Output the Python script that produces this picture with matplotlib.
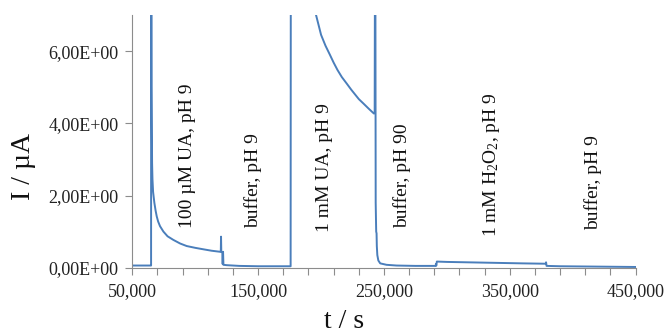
import numpy as np
import matplotlib
matplotlib.use('Agg')
import matplotlib.pyplot as plt
import matplotlib.ticker as ticker

plt.rcParams['font.family'] = ['Liberation Serif', 'DejaVu Serif']
plt.rcParams['mathtext.fontset'] = 'custom'
plt.rcParams['mathtext.rm'] = 'Liberation Serif'

# first injection: 100 uM UA, then buffer
t_seg1 = [50000, 64500, 64900, 65000, 65300, 65700, 66000, 66500, 67500, 68500,
          69400, 70500, 72000, 74700, 78000, 82600, 88000, 93200, 100000, 106400,
          113000, 120000, 120300, 120500, 120700, 121500, 121800, 122100, 122400,
          125000, 135000, 150000, 175800]
i_seg1 = [0.06, 0.06, 0.06, 12.0, 5.0, 2.9, 2.45, 2.1, 1.8, 1.58,
          1.42, 1.28, 1.15, 1.0, 0.87, 0.77, 0.67, 0.6, 0.55, 0.51,
          0.47, 0.44, 0.44, 0.86, 0.45, 0.43, 0.10, 0.44, 0.08,
          0.07, 0.05, 0.04, 0.04]

# second injection: 1 mM UA, then buffer
t_seg2 = [176000, 176200, 185000, 190000, 196000, 200000, 203500, 207000, 210000,
          213000, 216500, 220400, 224000, 227000, 230000, 233600, 238000, 242000,
          242600, 243000, 243400, 243800, 244100, 244300, 244700, 245500, 247000,
          252000, 260000, 275000, 291000]
i_seg2 = [12.0, 15.0, 9.0, 7.9, 7.0, 6.45, 6.15, 5.9, 5.68,
          5.48, 5.28, 5.1, 4.93, 4.8, 4.67, 4.55, 4.4, 4.27,
          4.3, 12.0, 1.8, 1.0, 0.95, 0.6, 0.35, 0.2, 0.12,
          0.08, 0.06, 0.05, 0.05]

# 1 mM H2O2, then buffer
t_seg3 = [291300, 291600, 292000, 300000, 330000, 360000, 378500, 378800, 379200,
          390000, 420000, 450000]
i_seg3 = [0.1, 0.06, 0.17, 0.16, 0.14, 0.12, 0.11, 0.15, 0.05,
          0.04, 0.03, 0.02]

labels = ['100 \u00b5M UA, pH 9', 'buffer, pH 9', '1 mM UA, pH 9', 'buffer, pH 90',
          r'1 mM H$\mathregular{_2}$O$\mathregular{_2}$, pH 9', 'buffer, pH 9']
label_t = [93500, 145900, 203100, 264100, 335600, 416100]
label_i = [1.10, 1.10, 0.99, 1.10, 0.85, 1.05]

t = np.array(t_seg1 + t_seg2 + t_seg3)
cur = np.array(i_seg1 + i_seg2 + i_seg3)

fig = plt.figure(figsize=(6.67, 3.35), dpi=100)
ax = fig.add_axes([0.1984, 0.2009, 0.7546, 0.7543])

ax.plot(t, cur, color='#4a7ebb', lw=1.4)

ax.set_xlim(50000, 450000)
ax.set_ylim(0, 7)
ax.xaxis.set_major_locator(ticker.FixedLocator(np.arange(50000, 450001, 20000)))
ax.xaxis.set_major_formatter(ticker.FuncFormatter(
    lambda v, p: '{:,.0f}'.format(v) if int(round(v)) % 100000 == 50000 else ''))
ax.yaxis.set_major_locator(ticker.MultipleLocator(2))
ax.yaxis.set_major_formatter(ticker.FuncFormatter(
    lambda v, p: '{:.2f}E+00'.format(v).replace('.', ',')))

for s in ['top', 'right']:
    ax.spines[s].set_visible(False)
for s in ['left', 'bottom']:
    ax.spines[s].set_color('#8c8c8c')
    ax.spines[s].set_linewidth(0.8)
ax.tick_params(axis='both', colors='#8c8c8c', labelcolor='#222222', labelsize=13,
               length=5, width=0.8)
ax.tick_params(axis='x', pad=6)
ax.tick_params(axis='y', pad=5)

for lab, x, y in zip(labels, label_t, label_i):
    ax.text(x, y, lab, rotation=90, ha='center', va='bottom', fontsize=14,
            color='#111111')

fig.text(23 / 667, 1 - 166 / 335, 'I / \u00b5A', rotation=90, ha='center',
         va='center', fontsize=20, color='#111111')
fig.text(344 / 667, 1 - 322 / 335, 't / s', ha='center', va='center',
         fontsize=20, color='#111111')

fig.savefig('out.png', dpi=100)
